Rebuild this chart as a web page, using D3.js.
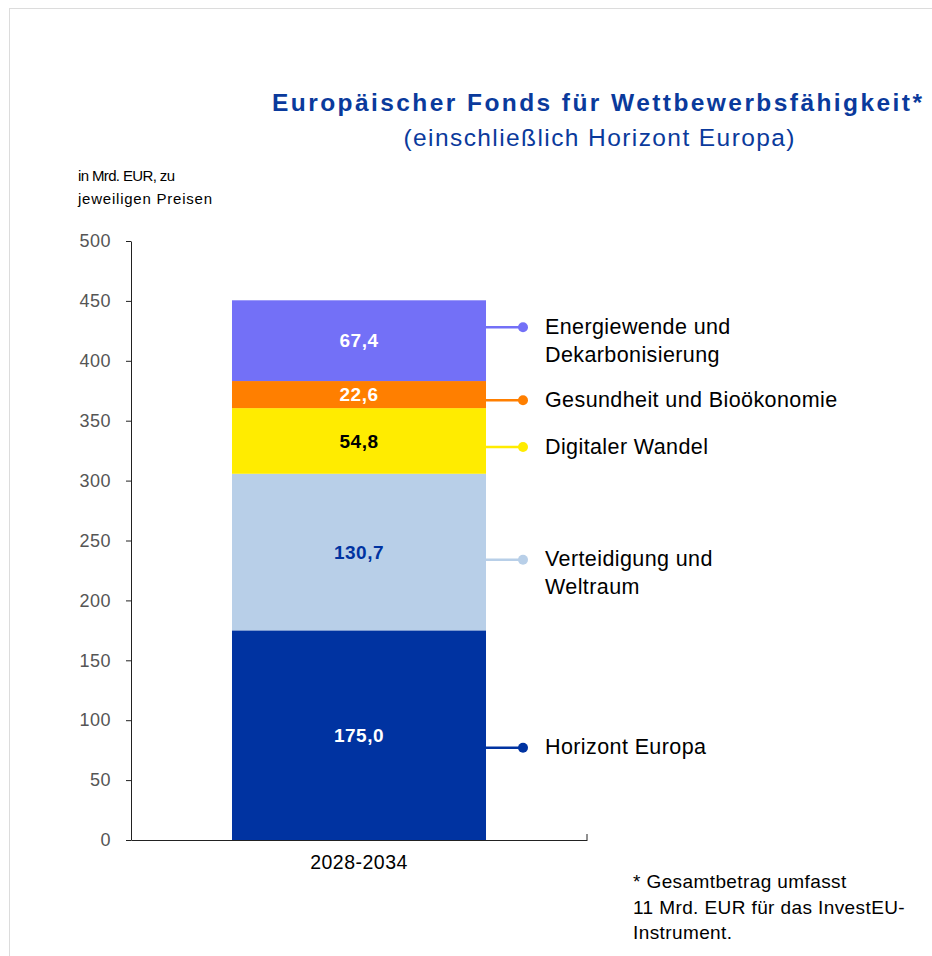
<!DOCTYPE html>
<html>
<head>
<meta charset="utf-8">
<script src="https://cdn.jsdelivr.net/npm/d3@7"></script>
<style>
  body { margin: 0; background: #fff; }
  svg text { font-family: "Liberation Sans", Arial, sans-serif; }
</style>
</head>
<body>
<div id="chart"></div>
<script>
// data, bottom to top
const categories = ["Horizont Europa", "Verteidigung und Weltraum", "Digitaler Wandel", "Gesundheit und Bioökonomie", "Energiewende und Dekarbonisierung"];
const legendLines = [["Horizont Europa"], ["Verteidigung und", "Weltraum"], ["Digitaler Wandel"], ["Gesundheit und Bioökonomie"], ["Energiewende und", "Dekarbonisierung"]];
const values = [175.0, 130.7, 54.8, 22.6, 67.4];
const valueLabels = ["175,0", "130,7", "54,8", "22,6", "67,4"];
const legendAt = [77, 234, 328, 367, 428]; // where the legend pins sit, in Mrd. EUR
const period = ["2028-2034"];
const yTicks = [0, 50, 100, 150, 200, 250, 300, 350, 400, 450, 500];

const colors = ["#0033a1", "#b8cfe8", "#ffec00", "#ff7f00", "#7370f7"];
const labelColors = ["#ffffff", "#0033a1", "#000000", "#ffffff", "#ffffff"];

const width = 932, height = 956;

const svg = d3.select("#chart").append("svg")
    .attr("width", width)
    .attr("height", height);

// frame
svg.append("rect")
    .attr("x", 9.5).attr("y", 8.5)
    .attr("width", 940).attr("height", 960)
    .attr("fill", "none")
    .attr("stroke", "#dcdcdc");

// title
svg.append("text")
    .attr("x", 597).attr("y", 111)
    .attr("text-anchor", "middle")
    .attr("font-size", 24.5).attr("font-weight", "bold")
    .attr("fill", "#0a3a9c")
    .attr("textLength", 650).attr("lengthAdjust", "spacing")
    .text("Europäischer Fonds für Wettbewerbsfähigkeit*");
svg.append("text")
    .attr("x", 599).attr("y", 146)
    .attr("text-anchor", "middle")
    .attr("font-size", 24.5)
    .attr("fill", "#0a3a9c")
    .attr("textLength", 391).attr("lengthAdjust", "spacing")
    .text("(einschließlich Horizont Europa)");

// unit
svg.append("text")
    .attr("x", 78).attr("y", 181)
    .attr("font-size", 15)
    .attr("textLength", 97).attr("lengthAdjust", "spacing")
    .text("in Mrd. EUR, zu");
svg.append("text")
    .attr("x", 78).attr("y", 204)
    .attr("font-size", 15)
    .attr("textLength", 134).attr("lengthAdjust", "spacing")
    .text("jeweiligen Preisen");

const x = d3.scaleBand()
    .domain(period)
    .range([131, 587])
    .paddingInner(0)
    .paddingOuter(0.3976);

const y = d3.scaleLinear()
    .domain([0, 500])
    .range([840, 241]);

// stack
const stacked = [];
let acc = 0;
values.forEach((v, i) => {
    stacked.push({ name: categories[i], y0: acc, y1: acc + v, i: i });
    acc += v;
});

const g = svg.append("g");

g.selectAll("rect.seg")
    .data(stacked)
    .enter()
    .append("rect")
    .attr("class", "seg")
    .attr("x", x(period[0]))
    .attr("width", x.bandwidth())
    .attr("y", d => y(d.y1))
    .attr("height", d => y(d.y0) - y(d.y1))
    .attr("fill", d => colors[d.i]);

g.selectAll("text.val")
    .data(stacked)
    .enter()
    .append("text")
    .attr("class", "val")
    .attr("x", x(period[0]) + x.bandwidth() / 2)
    .attr("y", d => y((d.y0 + d.y1) / 2))
    .attr("dy", "0.35em")
    .attr("text-anchor", "middle")
    .attr("font-size", 19).attr("font-weight", "bold")
    .attr("letter-spacing", 0.5)
    .attr("fill", d => labelColors[d.i])
    .text(d => valueLabels[d.i]);

// y axis
const yAxis = svg.append("g")
    .attr("transform", "translate(131,0)")
    .call(d3.axisLeft(y).tickValues(yTicks).tickSize(5).tickSizeOuter(0).tickFormat(d3.format("d")));
yAxis.select(".domain").attr("stroke", "#222");
yAxis.selectAll(".tick line").attr("stroke", "#222");
yAxis.selectAll(".tick text")
    .attr("x", -20)
    .attr("font-size", 18)
    .attr("letter-spacing", 0.5)
    .attr("fill", "#555")
    .attr("font-family", "Liberation Sans, Arial, sans-serif");

// x axis
const xAxis = svg.append("g")
    .attr("transform", "translate(0,840)")
    .call(d3.axisBottom(x).tickSize(0).tickSizeOuter(0));
xAxis.select(".domain").attr("stroke", "#222");
xAxis.selectAll(".tick text")
    .attr("y", 15)
    .attr("font-size", 19.5)
    .attr("letter-spacing", 0.5)
    .attr("fill", "#000")
    .attr("font-family", "Liberation Sans, Arial, sans-serif");
svg.append("line")
    .attr("x1", 587).attr("x2", 587)
    .attr("y1", 840).attr("y2", 834)
    .attr("stroke", "#222");

// legend pins
const barRight = x(period[0]) + x.bandwidth();
const leg = svg.append("g").selectAll("g")
    .data(stacked)
    .enter()
    .append("g");

leg.append("line")
    .attr("x1", barRight).attr("x2", 523)
    .attr("y1", d => y(legendAt[d.i])).attr("y2", d => y(legendAt[d.i]))
    .attr("stroke", d => colors[d.i])
    .attr("stroke-width", 2.5);
leg.append("circle")
    .attr("cx", 523)
    .attr("cy", d => y(legendAt[d.i]))
    .attr("r", 5)
    .attr("fill", d => colors[d.i]);

leg.append("text")
    .attr("x", 545)
    .attr("y", d => y(legendAt[d.i]))
    .attr("font-size", 21.5)
    .attr("letter-spacing", 0.4)
    .attr("fill", "#000")
    .selectAll("tspan")
    .data(d => legendLines[d.i].map((t, k) => ({ t: t, k: k })))
    .enter()
    .append("tspan")
    .attr("x", 545)
    .attr("dy", d => d.k === 0 ? "0.3em" : "1.3em")
    .text(d => d.t);

// footnote
const foot = ["* Gesamtbetrag umfasst", "11 Mrd. EUR für das InvestEU-", "Instrument."];
svg.append("g").selectAll("text")
    .data(foot)
    .enter()
    .append("text")
    .attr("x", 633)
    .attr("y", (d, i) => 888 + i * 25.5)
    .attr("font-size", 19)
    .attr("letter-spacing", 0.4)
    .attr("fill", "#000")
    .text(d => d);
</script>
</body>
</html>
